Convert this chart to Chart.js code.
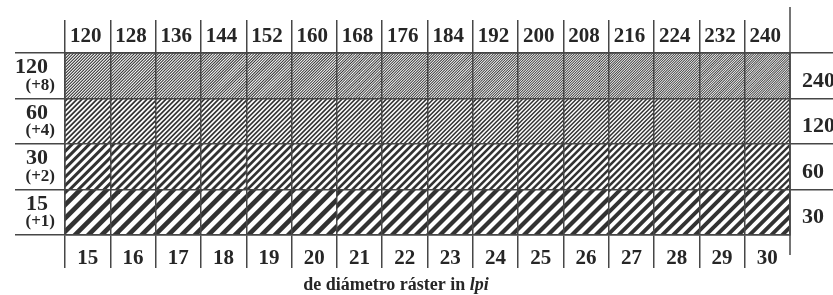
<!DOCTYPE html>
<html><head><meta charset="utf-8">
<script src="https://cdn.jsdelivr.net/npm/chart.js@4/dist/chart.umd.min.js"></script>
<style>html,body{margin:0;padding:0;background:#fff;overflow:hidden}</style>
</head><body>
<canvas id="c" width="833" height="295"></canvas>
<script>
// ---- data ----
const bottomLpi = [15,16,17,18,19,20,21,22,23,24,25,26,27,28,29,30];
const topLpi = [120,128,136,144,152,160,168,176,184,192,200,208,216,224,232,240];
const rowLpi = [15,30,60,120];          // bottom row -> top row
const rowStep = [1,2,4,8];              // (+n)
const rowMaxLpi = [30,60,120,240];      // right-hand labels
const titleText = 'de diámetro ráster in ';
const titleItalic = 'lpi';

// ---- style ----
const LINE = '#474747';
const INK = '#323232';
const TXT = '#262626';
const FAM = '"Liberation Serif", "Times New Roman", serif';

const canvas = document.getElementById('c');
const mainCtx = canvas.getContext('2d');

function makePattern(step, colFactor){
  const p = 14 / (Math.pow(step,0.74) * Math.pow(colFactor,0.35));
  const T = 120;
  const n = Math.max(1, Math.round(T/p));
  const pp = T/n;
  const cv = document.createElement('canvas'); cv.width = T; cv.height = T;
  const g = cv.getContext('2d');
  g.fillStyle = '#fff'; g.fillRect(0,0,T,T);
  g.fillStyle = INK;
  const w = pp*0.5;
  for (let k=-n-2; k<=n+1; k++){
    const x0 = k*pp;
    g.beginPath();
    g.moveTo(x0, T); g.lineTo(x0+w, T); g.lineTo(x0+w+T, 0); g.lineTo(x0+T, 0);
    g.closePath(); g.fill();
  }
  return mainCtx.createPattern(cv, 'repeat');
}

const datasets = rowLpi.map((lpi, r) => ({
  label: lpi + ' (+' + rowStep[r] + ')',
  data: bottomLpi.map(() => 1),
  backgroundColor: bottomLpi.map(v => makePattern(rowStep[r], v / bottomLpi[0])),
  borderWidth: 0,
  barPercentage: 1,
  categoryPercentage: 1,
  xAxisID: 'x',
  yAxisID: 'y'
}));

const lastHidden = ctx => ctx.type === 'tick' ? LINE : 'rgba(0,0,0,0)';

const extras = {
  id: 'extras',
  afterDraw(chart){
    const c = chart.ctx, a = chart.chartArea;
    c.save();
    // right frame line
    c.strokeStyle = LINE; c.lineWidth = 1.5;
    c.beginPath(); c.moveTo(a.right, a.top - 46); c.lineTo(a.right, a.bottom + 20); c.stroke();
    // (+n) labels
    const ys = chart.scales.yl;
    c.fillStyle = TXT; c.textAlign = 'right'; c.textBaseline = 'alphabetic';
    c.font = 'bold 17px ' + FAM;
    const topDown = rowStep.slice().reverse();
    topDown.forEach((s, i) => {
      c.fillText('(+' + s + ')', a.left - 10, ys.getPixelForTick(i) + 14);
    });
    // title
    c.textAlign = 'left';
    c.font = 'bold 18px ' + FAM;
    const w1 = c.measureText(titleText).width;
    c.font = 'italic bold 18px ' + FAM;
    const w2 = c.measureText(titleItalic).width;
    const x0 = 396 - (w1 + w2)/2;
    c.font = 'bold 18px ' + FAM;
    c.fillText(titleText, x0, a.bottom + 55);
    c.font = 'italic bold 18px ' + FAM;
    c.fillText(titleItalic, x0 + w1, a.bottom + 55);
    c.restore();
  }
};

const gridBase = { offset: true, color: LINE, lineWidth: 1.5, z: 1 };
const borderBase = { color: LINE, width: 1.5, z: 1 };

new Chart(canvas, {
  type: 'bar',
  data: { labels: bottomLpi.map(String), datasets },
  options: {
    responsive: false,
    animation: false,
    devicePixelRatio: 1,
    layout: { padding: 0 },
    plugins: { legend: { display: false }, tooltip: { enabled: false }, title: { display: false } },
    scales: {
      x: {
        type: 'category', position: 'bottom', stacked: true, offset: true,
        grid: Object.assign({}, gridBase, { tickLength: 33, tickColor: lastHidden, drawOnChartArea: true }),
        border: borderBase,
        ticks: { color: TXT, font: { family: FAM, size: 21, weight: 'bold' }, padding: -22, maxRotation: 0, autoSkip: false },
        afterFit: s => { s.height = 60; }
      },
      xt: {
        type: 'category', position: 'top', labels: topLpi.map(String), offset: true,
        grid: Object.assign({}, gridBase, { tickLength: 33, tickColor: lastHidden, drawOnChartArea: false }),
        border: borderBase,
        ticks: { color: TXT, font: { family: FAM, size: 21, weight: 'bold' }, padding: -29.5, labelOffset: -2, maxRotation: 0, autoSkip: false },
        afterFit: s => { s.height = 53; }
      },
      y: { stacked: true, min: 0, max: rowLpi.length, display: false },
      yl: {
        type: 'category', position: 'left', labels: rowLpi.slice().reverse().map(String), offset: true,
        grid: Object.assign({}, gridBase, { tickLength: 50, drawOnChartArea: true }),
        border: borderBase,
        ticks: { color: TXT, font: { family: FAM, size: 22, weight: 'bold' }, padding: -33, labelOffset: -8, autoSkip: false },
        afterFit: s => { s.width = 65; }
      },
      yr: {
        type: 'category', position: 'right', labels: rowMaxLpi.slice().reverse().map(String), offset: true,
        grid: Object.assign({}, gridBase, { tickLength: 43, tickColor: lastHidden, drawOnChartArea: false }),
        border: borderBase,
        ticks: { color: TXT, font: { family: FAM, size: 22, weight: 'bold' }, padding: -31, labelOffset: 5.5, crossAlign: 'near', autoSkip: false },
        afterFit: s => { s.width = 43; }
      }
    }
  },
  plugins: [extras]
});
</script>
</body></html>
